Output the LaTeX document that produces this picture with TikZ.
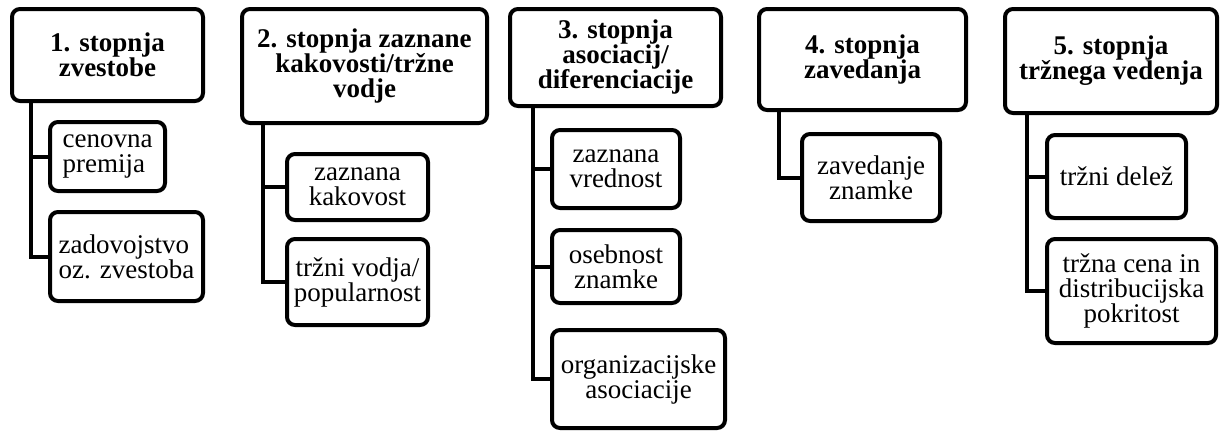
\documentclass[tikz,border=0pt]{standalone}
\usepackage{fontspec}
\setmainfont{Liberation Serif}
\begin{document}
\begin{tikzpicture}[x=1pt,y=-1pt,
  box/.style={draw=black,line width=4pt,rounded corners=8pt,fill=white,
    inner sep=1pt,align=center,
    font=\fontsize{27}{25}\selectfont},
  head/.style={box,font=\fontsize{27}{25}\selectfont\bfseries},
  conn/.style={line width=4pt,line cap=rect}]
\useasboundingbox (0,0) rectangle (1221,432);
\fill[white] (0,0) rectangle (1221,432);
% column 1
\node[head,minimum width=191pt,minimum height=92pt] (H1) at (107.5,55) {1. stopnja\\zvestobe};
\node[box,align=left,minimum width=115pt,minimum height=69pt] (C1a) at (107.5,156.5) {cenovna\\premija};
\node[box,align=left,minimum width=153pt,minimum height=89pt] (C1b) at (126.5,256.5) {zadovojstvo\\oz. zvestoba};
\coordinate (v1) at (31,0);
% column 2
\node[head,minimum width=245pt,minimum height=114pt] (H2) at (364.5,66) {2. stopnja zaznane\\kakovosti/tržne\\vodje};
\node[box,minimum width=141pt,minimum height=66pt] (C2a) at (357.5,187) {zaznana\\kakovost};
\node[box,minimum width=141pt,minimum height=86pt] (C2b) at (357.5,282) {tržni vodja/\\popularnost};
\coordinate (v2) at (263,0);
% column 3
\node[head,minimum width=211pt,minimum height=97pt] (H3) at (615.5,57.5) {3. stopnja\\asociacij/\\diferenciacije};
\node[box,minimum width=128pt,minimum height=78pt] (C3a) at (616,169) {zaznana\\vrednost};
\node[box,minimum width=128pt,minimum height=73pt] (C3b) at (616,266.5) {osebnost\\znamke};
\node[box,minimum width=173pt,minimum height=98pt] (C3c) at (638.5,379) {organizacijske\\asociacije};
\coordinate (v3) at (533,0);
% column 4
\node[head,minimum width=207pt,minimum height=101pt] (H4) at (862.5,59.5) {4. stopnja\\zavedanja};
\node[box,minimum width=138pt,minimum height=87pt] (C4) at (871,177.5) {zavedanje\\znamke};
\coordinate (v4) at (779,0);
% column 5
\node[head,minimum width=212pt,minimum height=104pt] (H5) at (1111,61) {5. stopnja\\tržnega vedenja};
\node[box,minimum width=139pt,minimum height=83pt] (C5a) at (1116.5,176.5) {tržni delež};
\node[box,minimum width=169pt,minimum height=104pt] (C5b) at (1131.5,291) {tržna cena in\\distribucijska\\pokritost};
\coordinate (v5) at (1027,0);
% connectors
\draw[conn] (H1.south -| v1) |- (C1b.west);
\draw[conn] (C1a.west) -- (C1a.west -| v1);
\draw[conn] (H2.south -| v2) |- (C2b.west);
\draw[conn] (C2a.west) -- (C2a.west -| v2);
\draw[conn] (H3.south -| v3) |- (C3c.west);
\draw[conn] (C3a.west) -- (C3a.west -| v3);
\draw[conn] (C3b.west) -- (C3b.west -| v3);
\draw[conn] (H4.south -| v4) |- (C4.west);
\draw[conn] (H5.south -| v5) |- (C5b.west);
\draw[conn] (C5a.west) -- (C5a.west -| v5);
\end{tikzpicture}
\end{document}
